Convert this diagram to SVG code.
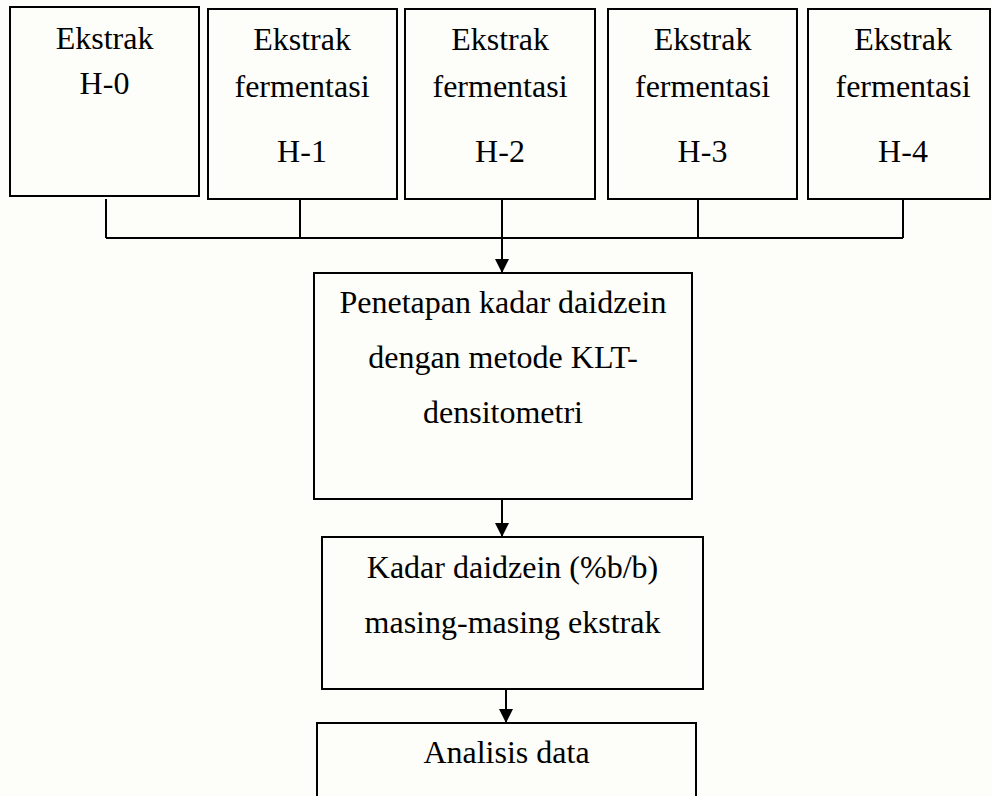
<svg xmlns="http://www.w3.org/2000/svg" width="992" height="796" viewBox="0 0 992 796">
  <style>
    .box { fill: none; stroke: #000; stroke-width: 2; }
    .lbl { font-family: "Liberation Serif", "Times New Roman", serif; font-size: 32px; fill: #000; text-anchor: middle; }
    .wire { fill: none; stroke: #000; stroke-width: 2; }
  </style>
  <defs>
    <marker id="arrow" markerWidth="14" markerHeight="14" refX="14" refY="7" orient="auto" markerUnits="userSpaceOnUse">
      <path d="M0,0 L14,7 L0,14 Z" fill="#000"/>
    </marker>
  </defs>
  <rect width="992" height="796" fill="#fdfdf9"/>

  <!-- extracts -->
  <g id="h0">
    <rect class="box" x="10" y="7" width="189" height="189"/>
    <text class="lbl" x="104.5" y="49">Ekstrak</text>
    <text class="lbl" x="104.5" y="94">H-0</text>
  </g>
  <g id="h1">
    <rect class="box" x="208" y="9" width="189" height="190"/>
    <text class="lbl" x="302" y="50">Ekstrak</text>
    <text class="lbl" x="302" y="97">fermentasi</text>
    <text class="lbl" x="302" y="162">H-1</text>
  </g>
  <g id="h2">
    <rect class="box" x="405" y="9" width="190" height="190"/>
    <text class="lbl" x="500" y="50">Ekstrak</text>
    <text class="lbl" x="500" y="97">fermentasi</text>
    <text class="lbl" x="500" y="162">H-2</text>
  </g>
  <g id="h3">
    <rect class="box" x="608" y="9" width="189" height="190"/>
    <text class="lbl" x="702.5" y="50">Ekstrak</text>
    <text class="lbl" x="702.5" y="97">fermentasi</text>
    <text class="lbl" x="702.5" y="162">H-3</text>
  </g>
  <g id="h4">
    <rect class="box" x="808" y="9" width="182" height="190"/>
    <text class="lbl" x="903" y="50">Ekstrak</text>
    <text class="lbl" x="903" y="97">fermentasi</text>
    <text class="lbl" x="903" y="162">H-4</text>
  </g>

  <!-- process steps -->
  <g id="penetapan">
    <rect class="box" x="314" y="273" width="378" height="226"/>
    <text class="lbl" x="503" y="313">Penetapan kadar daidzein</text>
    <text class="lbl" x="503" y="368">dengan metode KLT-</text>
    <text class="lbl" x="503" y="423">densitometri</text>
  </g>
  <g id="kadar">
    <rect class="box" x="322" y="537" width="381" height="152"/>
    <text class="lbl" x="512.5" y="578">Kadar daidzein (%b/b)</text>
    <text class="lbl" x="512.5" y="633">masing-masing ekstrak</text>
  </g>
  <g id="analisis">
    <rect class="box" x="317" y="723" width="379" height="90"/>
    <text class="lbl" x="506.5" y="763">Analisis data</text>
  </g>

  <!-- connectors -->
  <g id="connectors">
    <path class="wire" d="M106,199 V238 M300,199 V238 M698,199 V238 M903,199 V238 M106,238 H903"/>
    <path class="wire" d="M502,199 V273" marker-end="url(#arrow)"/>
    <path class="wire" d="M502,500 V537" marker-end="url(#arrow)"/>
    <path class="wire" d="M506,689 V723" marker-end="url(#arrow)"/>
  </g>
</svg>
